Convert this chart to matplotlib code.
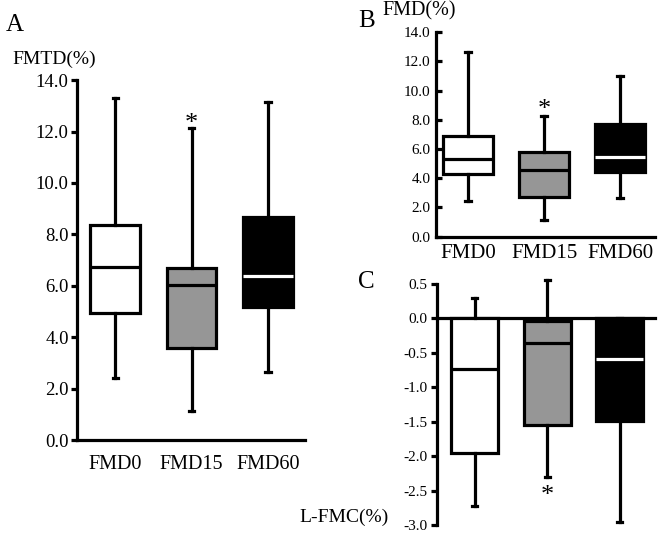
import matplotlib
matplotlib.use("Agg")
import matplotlib.pyplot as plt

plt.rcParams['font.family'] = ['Liberation Serif', 'DejaVu Serif']

# ========== data ==========
GROUPS = ["FMD0", "FMD15", "FMD60"]
FACE = ["white", "#969696", "black"]
MED_COLOR = ["black", "black", "white"]

# A: FMTD(%)  -> whislo, q1, med, q3, whishi
FMTD_LO = [2.42, 1.14, 2.66]
FMTD_Q1 = [4.93, 3.56, 5.19]
FMTD_MED = [6.74, 6.03, 6.38]
FMTD_Q3 = [8.36, 6.70, 8.66]
FMTD_HI = [13.31, 12.15, 13.16]

# B: FMD(%)
FMD_LO = [2.42, 1.14, 2.63]
FMD_Q1 = [4.29, 2.69, 4.45]
FMD_MED = [5.30, 4.57, 5.47]
FMD_Q3 = [6.92, 5.82, 7.72]
FMD_HI = [12.67, 8.29, 11.00]

# C: L-FMC(%)
LFMC_LO = [-2.72, -2.31, -2.95]
LFMC_Q1 = [-1.95, -1.55, -1.49]
LFMC_MED = [-0.73, -0.35, -0.59]
LFMC_Q3 = [0.0, -0.04, 0.0]
LFMC_HI = [0.30, 0.56, 0.0]

# asterisk positions (group index, value)
STAR_A = (2, 12.3)
STAR_B = (2, 8.7)
STAR_C = (2, -2.58)


def make_stats(lo, q1, med, q3, hi):
    return [dict(whislo=a, q1=b, med=c, q3=d, whishi=e, fliers=[])
            for a, b, c, d, e in zip(lo, q1, med, q3, hi)]


def draw_boxes(ax, stats, width, capw):
    lw = 2.3
    for i, st in enumerate(stats):
        ax.bxp([st], positions=[i + 1], widths=width, patch_artist=True,
               showfliers=False, capwidths=capw,
               boxprops=dict(facecolor=FACE[i], edgecolor="black", linewidth=lw),
               medianprops=dict(color=MED_COLOR[i], linewidth=lw),
               whiskerprops=dict(color="black", linewidth=lw),
               capprops=dict(color="black", linewidth=lw))


fig = plt.figure(figsize=(6.62, 5.34), dpi=100)

# ========== Panel A ==========
axA = fig.add_axes([0.1163, 0.176, 0.344, 0.674])
draw_boxes(axA, make_stats(FMTD_LO, FMTD_Q1, FMTD_MED, FMTD_Q3, FMTD_HI), 0.65, 0.07)
axA.set_xlim(0.5, 3.48)
axA.set_ylim(0, 14)
axA.set_yticks([0, 2, 4, 6, 8, 10, 12, 14])
axA.set_yticklabels([f"{v:.1f}" for v in [0, 2, 4, 6, 8, 10, 12, 14]], fontsize=13.5)
axA.set_xticks([1, 2, 3])
axA.set_xticklabels(GROUPS, fontsize=14.5)
axA.tick_params(axis='x', length=0, pad=11)
axA.tick_params(axis='y', direction='out', length=4, width=2.3, pad=2)
for s in ['top', 'right']:
    axA.spines[s].set_visible(False)
for s in ['left', 'bottom']:
    axA.spines[s].set_linewidth(2.3)
axA.text(STAR_A[0], STAR_A[1], "*", fontsize=19, ha="center", va="center")

# ========== Panel B ==========
axB = fig.add_axes([0.6586, 0.5568, 0.331, 0.3828])
draw_boxes(axB, make_stats(FMD_LO, FMD_Q1, FMD_MED, FMD_Q3, FMD_HI), 0.65, 0.07)
axB.set_xlim(0.58, 3.46)
axB.set_ylim(0, 14)
axB.set_yticks([0, 2, 4, 6, 8, 10, 12, 14])
axB.set_yticklabels([f"{v:.1f}" for v in [0, 2, 4, 6, 8, 10, 12, 14]], fontsize=11)
axB.set_xticks([1, 2, 3])
axB.set_xticklabels(GROUPS, fontsize=15)
axB.tick_params(axis='x', length=0, pad=5)
axB.tick_params(axis='y', direction='in', length=4, width=2.3, pad=4)
for s in ['top', 'right']:
    axB.spines[s].set_visible(False)
for s in ['left', 'bottom']:
    axB.spines[s].set_linewidth(2.3)
axB.text(STAR_B[0], STAR_B[1], "*", fontsize=19, ha="center", va="center")

# ========== Panel C ==========
axC = fig.add_axes([0.66, 0.0169, 0.329, 0.464])
draw_boxes(axC, make_stats(LFMC_LO, LFMC_Q1, LFMC_MED, LFMC_Q3, LFMC_HI), 0.65, 0.07)
axC.set_xlim(0.476, 3.48)
axC.set_ylim(-3.0, 0.6)
axC.set_yticks([0.5, 0.0, -0.5, -1.0, -1.5, -2.0, -2.5, -3.0])
axC.set_yticklabels([f"{v:.1f}" for v in [0.5, 0.0, -0.5, -1.0, -1.5, -2.0, -2.5, -3.0]],
                    fontsize=11)
axC.set_xticks([])
axC.tick_params(axis='y', direction='out', length=4, width=2.3, pad=3)
axC.spines['top'].set_visible(False)
axC.spines['right'].set_visible(False)
axC.spines['bottom'].set_position(('data', 0))
axC.spines['left'].set_bounds(-3.0, 0.5)
for s in ['left', 'bottom']:
    axC.spines[s].set_linewidth(2.3)
axC.spines['bottom'].set_zorder(0.5)
axC.text(STAR_C[0], STAR_C[1], "*", fontsize=19, ha="center", va="center")

# ========== labels ==========
fig.text(0.008, 0.953, "A", fontsize=18, ha="left", va="center")
fig.text(0.018, 0.888, "FMTD(%)", fontsize=14, ha="left", va="center")
fig.text(0.541, 0.961, "B", fontsize=18, ha="left", va="center")
fig.text(0.577, 0.979, "FMD(%)", fontsize=14.5, ha="left", va="center")
fig.text(0.541, 0.472, "C", fontsize=18, ha="left", va="center")
fig.text(0.453, 0.032, "L-FMC(%)", fontsize=14, ha="left", va="center")

fig.savefig("out.png", dpi=100)
